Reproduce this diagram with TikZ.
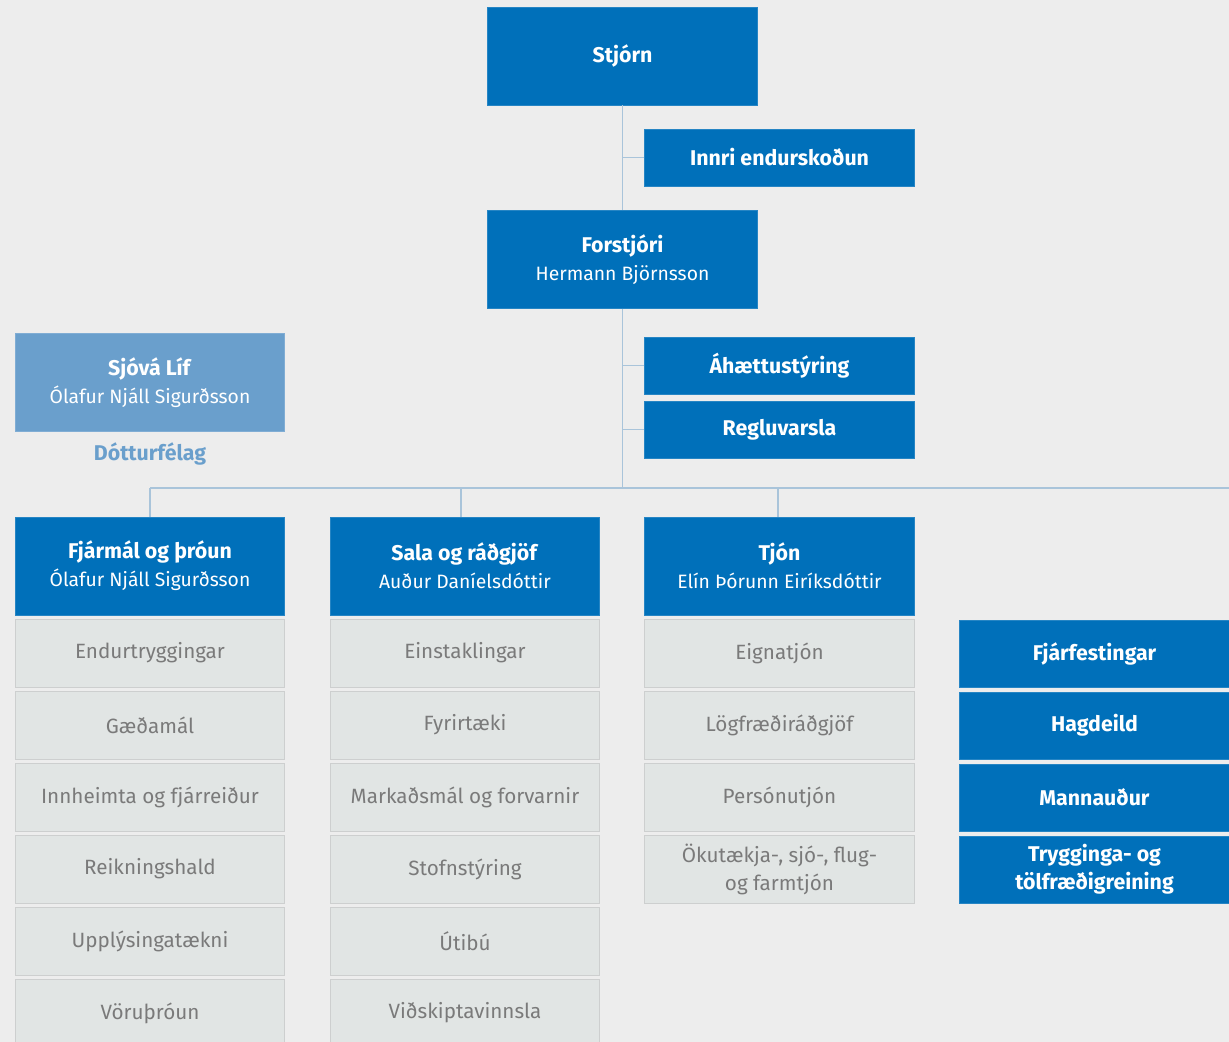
\documentclass[tikz,border=0pt]{standalone}
\usepackage{fontspec}
\setmainfont{Fira Sans}
\definecolor{sblue}{HTML}{0070BA}
\definecolor{lblue}{HTML}{6A9FCC}
\definecolor{bg}{HTML}{EDEDED}
\definecolor{gfill}{HTML}{E1E5E4}
\definecolor{gline}{HTML}{CDCFCF}
\definecolor{gtext}{HTML}{7A7A7A}
\definecolor{conn}{HTML}{A9C4DA}
\newcommand{\pname}[1]{{\fontsize{14.5}{21}\selectfont #1}}
\tikzset{
  base/.style={inner sep=0pt, align=center, font=\fontsize{16}{21}\selectfont, line width=0.6pt},
  boldfont/.style={font=\fontsize{16}{21}\selectfont\bfseries},
  bluebox/.style={base, fill=sblue, draw=sblue!85!white, text=white},
  bigbox/.style={bluebox, minimum width=202pt, minimum height=73.5pt},
  smallbox/.style={bluebox, boldfont, minimum width=202pt, minimum height=42.75pt},
  sidebox/.style={bluebox, boldfont, minimum width=202pt, minimum height=50.25pt},
  greybox/.style={base, fill=gfill, draw=gline, text=gtext, font=\fontsize{15.5}{21}\selectfont, minimum width=202pt, minimum height=51pt},
  conline/.style={draw=conn, line width=1pt},
}
\begin{document}
\begin{tikzpicture}[x=0.75pt,y=-0.75pt]
\useasboundingbox (0,0) rectangle (1229,1042);
\clip (0,0) rectangle (1229,1042);
\fill[bg] (0,0) rectangle (1229,1042);

% top column
\node[bigbox, boldfont] (stjorn) at (622.5,56) {Stjórn};
\node[smallbox] (innri) at (779.5,157.5) {Innri endurskoðun};
\node[bigbox] (forstjori) at (622.5,259.5) {\textbf{Forstjóri}\\\pname{Hermann Björnsson}};
\node[smallbox] (ahaettu) at (779.5,365.5) {Áhættustýring};
\node[smallbox] (reglu) at (779.5,429.5) {Regluvarsla};

% subsidiary
\node[bigbox, fill=lblue, draw=lblue!85!white] (sjova) at (150,382.5) {\textbf{Sjóvá Líf}\\\pname{Ólafur Njáll Sigurðsson}};
\node[base, boldfont, text=lblue] (dottur) at (150,454) {Dótturfélag};

% divisions
\node[bigbox] (fjarmal) at (150,566) {\textbf{Fjármál og þróun}\\\pname{Ólafur Njáll Sigurðsson}};
\node[bigbox] (sala) at (465,566) {\textbf{Sala og ráðgjöf}\\\pname{Auður Daníelsdóttir}};
\node[bigbox] (tjon) at (779.5,566) {\textbf{Tjón}\\\pname{Elín Þórunn Eiríksdóttir}};

% grey units column 1
\node[greybox] (f1) at (150,653) {Endurtryggingar};
\node[greybox] (f2) at (150,725) {Gæðamál};
\node[greybox] (f3) at (150,797) {Innheimta og fjárreiður};
\node[greybox] (f4) at (150,869) {Reikningshald};
\node[greybox] (f5) at (150,941) {Upplýsingatækni};
\node[greybox] (f6) at (150,1013) {Vöruþróun};
% column 2
\node[greybox] (s1) at (465,653) {Einstaklingar};
\node[greybox] (s2) at (465,725) {Fyrirtæki};
\node[greybox] (s3) at (465,797) {Markaðsmál og forvarnir};
\node[greybox] (s4) at (465,869) {Stofnstýring};
\node[greybox] (s5) at (465,941) {Útibú};
\node[greybox] (s6) at (465,1013) {Viðskiptavinnsla};
% column 3
\node[greybox] (t1) at (779.5,653) {Eignatjón};
\node[greybox] (t2) at (779.5,725) {Lögfræðiráðgjöf};
\node[greybox] (t3) at (779.5,797) {Persónutjón};
\node[greybox] (t4) at (779.5,869) {Ökutækja-, sjó-, flug-\\og farmtjón};

% staff units right
\node[sidebox] (r1) at (1094.5,653.5) {Fjárfestingar};
\node[sidebox] (r2) at (1094.5,725.5) {Hagdeild};
\node[sidebox] (r3) at (1094.5,797.5) {Mannauður};
\node[sidebox] (r4) at (1094.5,869.5) {Trygginga- og\\tölfræðigreining};

% connectors
\coordinate (bus) at (622.5,488);
\coordinate (busL) at (150,488);
\coordinate (busR) at (1229,488);
\coordinate (busS) at (461,488);
\coordinate (busT) at (778,488);
\path[conline] (stjorn.south) -- (forstjori.north);
\path[conline] (forstjori.south) -- (bus);
\path[conline] (innri.west) -- (innri.west -| stjorn.south);
\path[conline] (ahaettu.west) -- (ahaettu.west -| forstjori.south);
\path[conline] (reglu.west) -- (reglu.west -| forstjori.south);
\path[conline] (busL) -- (busR);
\path[conline] (busL) -- (fjarmal.north);
\path[conline] (busS) -- (busS |- sala.north);
\path[conline] (busT) -- (busT |- tjon.north);
\end{tikzpicture}
\end{document}
